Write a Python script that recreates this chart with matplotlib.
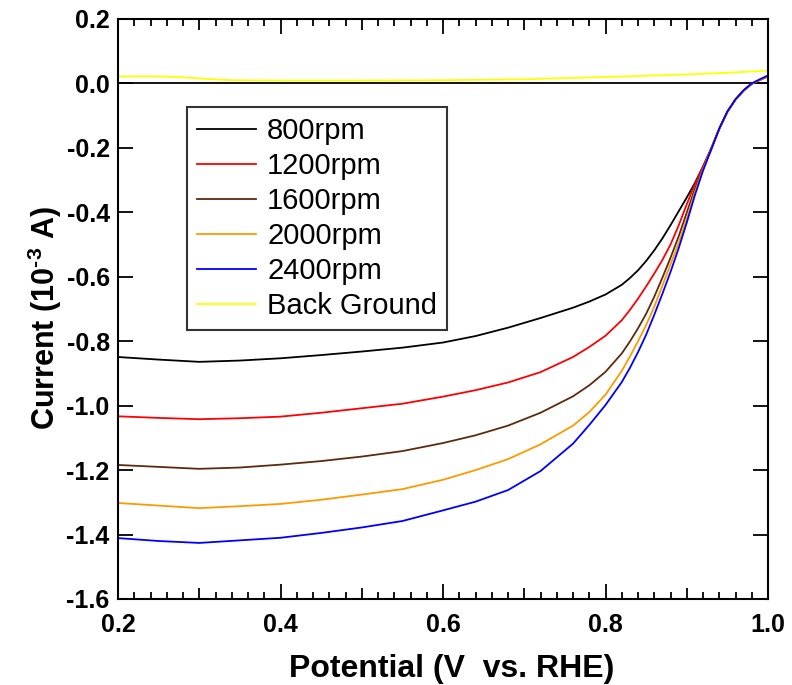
import matplotlib
matplotlib.use("Agg")
import matplotlib.pyplot as plt
from matplotlib.ticker import MultipleLocator, FixedLocator

plt.rcParams['font.family'] = ['Liberation Sans', 'DejaVu Sans']
plt.rcParams['mathtext.fontset'] = 'custom'
plt.rcParams['mathtext.rm'] = 'Liberation Sans'
plt.rcParams['mathtext.bf'] = 'Liberation Sans:bold'

potential = [0.20, 0.25, 0.30, 0.35, 0.40, 0.45, 0.50, 0.55, 0.60, 0.64, 0.68, 0.72, 0.76,
             0.78, 0.80, 0.82, 0.83, 0.84, 0.85, 0.86, 0.87, 0.88, 0.89, 0.90, 0.91, 0.92,
             0.93, 0.94, 0.95, 0.96, 0.97, 0.98, 0.99, 1.00]

rpm800 = [-0.849, -0.857, -0.864, -0.860, -0.853, -0.843, -0.832, -0.820, -0.804, -0.784,
          -0.758, -0.728, -0.696, -0.677, -0.655, -0.625, -0.604, -0.580, -0.551, -0.518,
          -0.481, -0.440, -0.397, -0.354, -0.309, -0.258, -0.202, -0.141, -0.088, -0.050,
          -0.022, -0.001, 0.011, 0.022]
rpm1200 = [-1.033, -1.038, -1.042, -1.039, -1.034, -1.022, -1.008, -0.994, -0.972, -0.952,
           -0.928, -0.896, -0.849, -0.818, -0.783, -0.735, -0.703, -0.668, -0.630, -0.590,
           -0.548, -0.500, -0.441, -0.375, -0.313, -0.259, -0.203, -0.141, -0.088, -0.050,
           -0.022, -0.001, 0.011, 0.022]
rpm1600 = [-1.184, -1.190, -1.196, -1.192, -1.183, -1.172, -1.158, -1.141, -1.116, -1.092,
           -1.062, -1.022, -0.971, -0.937, -0.895, -0.838, -0.801, -0.760, -0.715, -0.662,
           -0.603, -0.541, -0.475, -0.401, -0.327, -0.264, -0.204, -0.141, -0.088, -0.050,
           -0.022, -0.001, 0.011, 0.022]
rpm2000 = [-1.302, -1.310, -1.318, -1.312, -1.305, -1.292, -1.276, -1.259, -1.230, -1.200,
           -1.166, -1.120, -1.062, -1.020, -0.966, -0.892, -0.848, -0.800, -0.750, -0.693,
           -0.628, -0.561, -0.496, -0.420, -0.338, -0.267, -0.205, -0.141, -0.088, -0.050,
           -0.022, -0.001, 0.011, 0.023]
rpm2400 = [-1.411, -1.420, -1.426, -1.418, -1.410, -1.395, -1.378, -1.358, -1.325, -1.298,
           -1.262, -1.203, -1.118, -1.060, -0.998, -0.927, -0.883, -0.834, -0.780, -0.718,
           -0.653, -0.585, -0.512, -0.432, -0.347, -0.271, -0.206, -0.140, -0.087, -0.049,
           -0.021, 0.000, 0.013, 0.025]

bg_potential = [0.20, 0.25, 0.28, 0.31, 0.34, 0.40, 0.50, 0.60, 0.70, 0.80, 0.85, 0.90,
                0.95, 1.00]
background = [0.022, 0.022, 0.019, 0.014, 0.010, 0.009, 0.009, 0.010, 0.013, 0.020, 0.024,
              0.028, 0.033, 0.040]

labels = ['800rpm', '1200rpm', '1600rpm', '2000rpm', '2400rpm', 'Back Ground']
colors = ['#000000', '#ff0000', '#5e2a0c', '#ff9900', '#0000ff', '#ffff00']
series = [rpm800, rpm1200, rpm1600, rpm2000, rpm2400]

fig = plt.figure(figsize=(7.92, 6.85), dpi=100)
ax = fig.add_axes([118/792, 1 - 599/685, 650/792, 580/685])

ax.axhline(0, color='black', lw=1.3, zorder=1)
for y, c, lab in zip(series, colors[:5], labels[:5]):
    ax.plot(potential, y, color=c, lw=1.3, label=lab, zorder=2)
ax.plot(bg_potential, background, color=colors[5], lw=1.3, label=labels[5], zorder=2)

ax.set_xlim(0.2, 1.0)
ax.set_ylim(-1.6, 0.2)
ax.xaxis.set_major_locator(MultipleLocator(0.2))
ax.xaxis.set_minor_locator(FixedLocator([0.2 + 0.02 * i for i in range(41) if i % 5 != 0]))
ax.yaxis.set_major_locator(MultipleLocator(0.2))
ax.xaxis.set_major_formatter(plt.FuncFormatter(lambda v, p: f"{v:.1f}"))
ax.yaxis.set_major_formatter(plt.FuncFormatter(lambda v, p: f"{v:.1f}".replace("-0.0", "0.0")))

ax.tick_params(which='major', direction='in', top=True, right=True, length=11, width=1.3,
               labelsize=18)
ax.tick_params(which='minor', direction='in', top=True, right=True, length=5, width=1.3)
ax.tick_params(axis='x', which='major', pad=10)
ax.tick_params(axis='y', which='major', pad=6)
for lab in ax.get_xticklabels() + ax.get_yticklabels():
    lab.set_fontweight('bold')

# medium ticks at 0.1 offsets
for side in ('bottom', 'top'):
    sec = ax.secondary_xaxis(side)
    sec.set_xticks([0.3, 0.5, 0.7, 0.9])
    sec.tick_params(direction='in', length=8, width=1.3, labelbottom=False, labeltop=False)
    sec.spines[side].set_visible(False)

for s in ax.spines.values():
    s.set_linewidth(1.5)

ax.set_xlabel('Potential (V  vs. RHE)', fontsize=23, fontweight='bold')
ax.xaxis.set_label_coords(0.514, -0.095)
ax.set_ylabel('Current (10$^{\\mathbf{\u2010}\\mathbf{3}}$ A)', fontsize=22,
              fontweight='bold')
ax.yaxis.set_label_coords(-0.083, 0.484)

leg = ax.legend(loc='upper left', bbox_to_anchor=(187/792, 1 - 107/685),
                bbox_transform=fig.transFigure, borderaxespad=0, fontsize=21,
                frameon=True, fancybox=False, handlelength=2.0, handletextpad=0.4,
                labelspacing=0.24, borderpad=0.35)
leg.get_frame().set_edgecolor('black')
leg.get_frame().set_linewidth(1.5)
for h in leg.get_lines():
    h.set_linewidth(1.3)

fig.savefig('out.png', dpi=100)
